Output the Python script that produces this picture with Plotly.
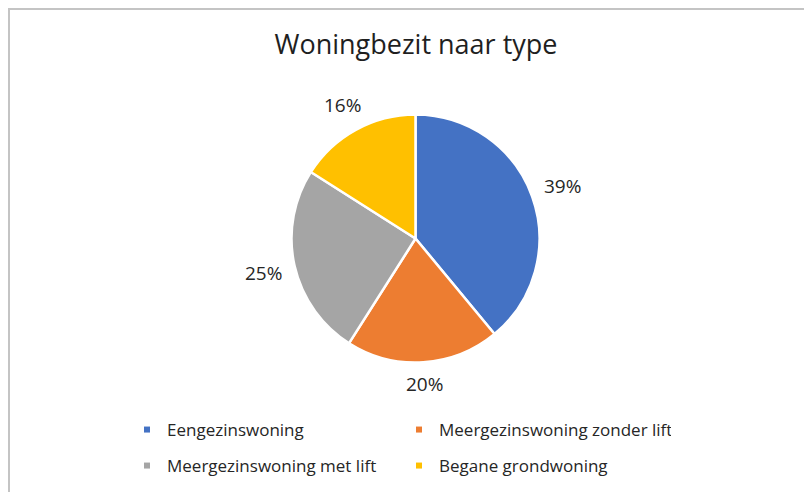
import math
import plotly.graph_objects as go

# ---- data ----
categories = ["Eengezinswoning", "Meergezinswoning zonder lift",
              "Meergezinswoning met lift", "Begane grondwoning"]
values = [39, 20, 25, 16]
colors = ["#4472C4", "#ED7D31", "#A5A5A5", "#FFC000"]
title_text = "Woningbezit naar type"

# ---- layout constants (pixels, screen coords; page has an 8px body margin) ----
W, H = 812, 492
OFF = 8.0
cx, cy, R = 415.5 - OFF, 238.5 - OFF, 124.0
FONT = "Open Sans"
TXT = "#262626"


def px_x(x):
    return x / W


def px_y(y):
    return 1 - y / H


fig = go.Figure()
fig.add_trace(go.Pie(
    labels=categories, values=values, sort=False,
    direction="clockwise", rotation=0,
    marker=dict(colors=colors, line=dict(color="white", width=2.5)),
    textinfo="none", hoverinfo="label+percent", showlegend=False,
    domain=dict(x=[px_x(cx - R), px_x(cx + R)],
                y=[px_y(cy + R), px_y(cy - R)]),
))

# percentage labels placed outside each slice (derived from values)
total = float(sum(values))
cum = 0.0
hw, hh, gap = 17.5, 7.0, 13.6
for v in values:
    mid = (cum + v / 2.0) / total * 2 * math.pi
    cum += v
    dx, dy = math.sin(mid), -math.cos(mid)
    d = R + gap + hw * abs(dx) + hh * abs(dy)
    lx, ly = cx + d * dx, cy + d * dy
    fig.add_annotation(
        x=px_x(lx), y=px_y(ly), xref="paper", yref="paper",
        text=f"{round(v / total * 100)}%", showarrow=False,
        xanchor="center", yanchor="middle",
        font=dict(family=FONT, size=19, color=TXT),
    )

# legend entries (small square markers), two rows
for i, (cat, col) in enumerate(zip(categories, colors)):
    fig.add_trace(go.Scatter(
        x=[None], y=[None], mode="markers", name=cat,
        marker=dict(symbol="square", size=6, color=col),
        legend="legend" if i < 2 else "legend2", hoverinfo="skip",
    ))

leg_common = dict(
    orientation="h", xanchor="left", yanchor="middle",
    xref="paper", yref="paper",
    entrywidth=227, entrywidthmode="pixels",
    font=dict(family=FONT, size=17, color=TXT),
    bgcolor="rgba(0,0,0,0)", itemclick=False, itemdoubleclick=False,
)

fig.update_layout(
    width=W, height=H,
    margin=dict(l=0, r=0, t=0, b=0),
    paper_bgcolor="white", plot_bgcolor="white",
    xaxis=dict(visible=False), yaxis=dict(visible=False),
    title=dict(text=title_text, x=px_x(416 - OFF), y=px_y(45 - OFF),
               xanchor="center", yanchor="middle",
               font=dict(family=FONT, size=27, color="#1f1f1f")),
    legend=dict(x=px_x(127 - OFF), y=px_y(430 - OFF), **leg_common),
    legend2=dict(x=px_x(127 - OFF), y=px_y(466 - OFF), **leg_common),
    shapes=[
        dict(type="line", xref="paper", yref="paper",
             x0=px_x(1), x1=px_x(1), y0=-0.05, y1=px_y(1),
             line=dict(color="#c4c4c4", width=2)),
        dict(type="line", xref="paper", yref="paper",
             x0=px_x(0), x1=1.05, y0=px_y(1), y1=px_y(1),
             line=dict(color="#c4c4c4", width=2)),
    ],
)

fig.write_html("out.html")
